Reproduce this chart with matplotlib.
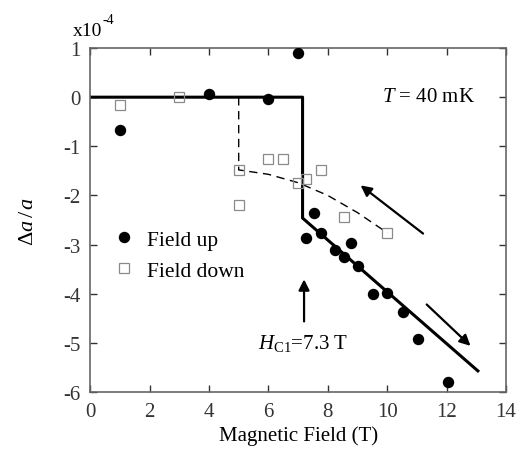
import matplotlib
matplotlib.use("Agg")
import matplotlib.pyplot as plt

plt.rcParams['font.family'] = ['Liberation Serif', 'DejaVu Serif']
plt.rcParams['mathtext.fontset'] = 'custom'
plt.rcParams['mathtext.rm'] = 'Liberation Serif'
plt.rcParams['mathtext.it'] = 'Liberation Serif:italic'
plt.rcParams['axes.unicode_minus'] = False

# field up (filled circles)
up_x = [1.0, 4.0, 6.0, 7.0, 7.27, 7.52, 7.77, 8.25, 8.53, 8.78, 9.0, 9.52, 10.0, 10.52, 11.02, 12.03]
up_y = [-0.66, 0.06, -0.03, 0.90, -2.86, -2.35, -2.77, -3.11, -3.25, -2.97, -3.43, -4.01, -3.99, -4.37, -4.93, -5.80]

# field down (open squares)
down_x = [1.0, 3.0, 5.0, 5.0, 6.0, 6.5, 7.0, 7.28, 7.77, 8.53, 10.0]
down_y = [-0.16, 0.0, -1.48, -2.19, -1.26, -1.26, -1.74, -1.67, -1.49, -2.44, -2.76]

# guide lines
up_line_x = [0.0, 7.15, 7.15, 13.05]
up_line_y = [0.0, 0.0, -2.46, -5.57]
down_line_x = [5.0, 5.0, 6.0, 7.0, 8.0, 9.0, 10.0]
down_line_y = [0.0, -1.48, -1.57, -1.74, -2.0, -2.35, -2.76]

fig = plt.figure(figsize=(5.18, 4.52), dpi=100)
ax = fig.add_axes([0.174, 0.1305, 0.803, 0.761])

ax.plot(up_line_x, up_line_y, color='black', lw=2.2, zorder=2)
ax.plot(down_line_x, down_line_y, color='black', lw=1.0, ls=(0, (6, 4)), zorder=2)

ax.plot(up_x, up_y, 'o', color='black', ms=7.2, ls='none', label='Field up', zorder=3)
ax.plot(down_x, down_y, 's', mfc='none', mec='#8a8a8a', mew=0.9, ms=6.5, ls='none',
        label='Field down', zorder=3)

# arrows
arr = dict(arrowstyle='-|>', color='black', lw=1.6, mutation_scale=16)
ax.annotate('', xy=(9.03, -1.76), xytext=(11.28, -2.81), arrowprops=arr)
ax.annotate('', xy=(12.87, -5.10), xytext=(11.26, -4.18), arrowprops=arr)
ax.annotate('', xy=(7.2, -3.65), xytext=(7.2, -4.62), arrowprops=arr)

ax.text(5.66, -5.0, r'$H_{\mathrm{C1}}$=7.3 T', fontsize=15, va='center', ha='left')
ax.text(12.96, 0.02, r'$T$ = 40 mK', fontsize=15, va='center', ha='right')

ax.set_xlim(0, 14)
ax.set_ylim(-6, 1)
ax.set_xticks(range(0, 15, 2))
ax.set_yticks(range(-6, 2))
ax.tick_params(direction='in', length=5, width=1, top=True, right=True,
               labelsize=15, colors='#333333', pad=7)
for s in ax.spines.values():
    s.set_color('#666666')
    s.set_linewidth(1.2)

ax.set_xlabel('Magnetic Field (T)', fontsize=15, labelpad=3)
ax.set_ylabel(r'$\Delta a\,/\,a$', fontsize=16, labelpad=18)
fig.text(0.141, 0.93, 'x10', fontsize=14, ha='left', va='center')
fig.text(0.197, 0.955, '-4', fontsize=10, ha='left', va='center')

ax.legend(loc='center left', bbox_to_anchor=(0.0, 0.398), frameon=False, fontsize=15.5,
          handlelength=1.1, handletextpad=0.55, labelspacing=0.5, borderpad=0.5)

fig.savefig('out.png', dpi=100)
